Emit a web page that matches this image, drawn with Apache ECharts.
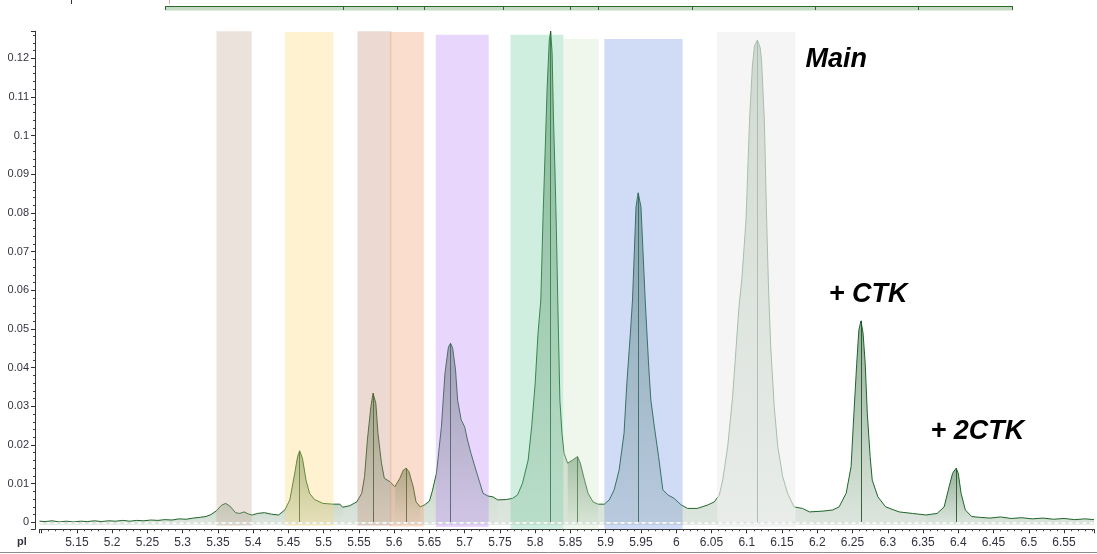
<!DOCTYPE html>
<html>
<head>
<meta charset="utf-8">
<script src="https://cdn.jsdelivr.net/npm/echarts@6/dist/echarts.min.js"></script>
<style>
  html, body { margin: 0; padding: 0; background: #ffffff; }
  #chart { width: 1097px; height: 554px; }
</style>
</head>
<body>
<div id="chart"></div>
<script>
// Electropherogram trace: pI versus absorbance
const pI = [
  5.097, 5.105, 5.115, 5.125, 5.135, 5.145, 5.155, 5.165, 5.175, 5.185,
  5.195, 5.205, 5.215, 5.225, 5.235, 5.245, 5.255, 5.265, 5.275, 5.285,
  5.295, 5.305, 5.315, 5.325, 5.333, 5.340, 5.348, 5.355, 5.361, 5.367,
  5.375, 5.381, 5.387, 5.394, 5.399, 5.406, 5.416, 5.426, 5.436, 5.445,
  5.452, 5.459, 5.463, 5.466, 5.470, 5.475, 5.480, 5.487, 5.499, 5.513,
  5.523, 5.527, 5.537, 5.547, 5.554, 5.558, 5.562, 5.567, 5.570, 5.574,
  5.577, 5.582, 5.586, 5.594, 5.601, 5.608, 5.613, 5.617, 5.621, 5.627,
  5.631, 5.637, 5.643, 5.650, 5.654, 5.660, 5.667, 5.672, 5.677, 5.680,
  5.683, 5.687, 5.690, 5.695, 5.700, 5.704, 5.709, 5.716, 5.721, 5.726,
  5.733, 5.740, 5.747, 5.759, 5.768, 5.775, 5.782, 5.790, 5.795, 5.800,
  5.804, 5.808, 5.811, 5.814, 5.817, 5.820, 5.822, 5.824, 5.826, 5.828,
  5.830, 5.832, 5.835, 5.838, 5.841, 5.846, 5.853, 5.860, 5.864, 5.870,
  5.875, 5.882, 5.889, 5.898, 5.905, 5.912, 5.919, 5.926, 5.930, 5.935,
  5.938, 5.943, 5.946, 5.950, 5.956, 5.961, 5.964, 5.969, 5.975, 5.981,
  5.988, 5.997, 6.007, 6.016, 6.030, 6.045, 6.054, 6.061, 6.066, 6.073,
  6.080, 6.085, 6.089, 6.093, 6.099, 6.104, 6.108, 6.111, 6.115, 6.119,
  6.121, 6.125, 6.128, 6.131, 6.134, 6.139, 6.144, 6.151, 6.158, 6.167,
  6.179, 6.189, 6.208, 6.222, 6.231, 6.241, 6.248, 6.252, 6.256, 6.259,
  6.262, 6.265, 6.268, 6.271, 6.275, 6.278, 6.286, 6.297, 6.316, 6.335,
  6.354, 6.370, 6.380, 6.387, 6.392, 6.397, 6.400, 6.404, 6.410, 6.419,
  6.430, 6.445, 6.460, 6.475, 6.490, 6.505, 6.520, 6.535, 6.550, 6.565,
  6.580, 6.5925
];
const absorbance = [
  0.0003, 0.0002, 0.0004, 0.0001, 0.0003, 0.0001, 0.0003, 0.0002, 0.0004, 0.0002,
  0.0004, 0.0003, 0.0005, 0.0003, 0.0005, 0.0004, 0.0006, 0.0005, 0.0007, 0.0006,
  0.0009, 0.0008, 0.0011, 0.0013, 0.0015, 0.0020, 0.0030, 0.0044, 0.0049, 0.0042,
  0.0025, 0.0023, 0.0027, 0.0021, 0.0019, 0.0023, 0.0025, 0.0021, 0.0019, 0.0032,
  0.0058, 0.0127, 0.0170, 0.0185, 0.0165, 0.0109, 0.0075, 0.0059, 0.0049, 0.0047,
  0.0047, 0.0039, 0.0043, 0.0053, 0.0075, 0.0118, 0.0213, 0.0299, 0.0334, 0.0308,
  0.0230, 0.0153, 0.0114, 0.0105, 0.0092, 0.0114, 0.0135, 0.0140, 0.0131, 0.0092,
  0.0053, 0.0040, 0.0045, 0.0055, 0.0080, 0.0127, 0.0247, 0.0385, 0.0454, 0.0463,
  0.0450, 0.0394, 0.0316, 0.0265, 0.0247, 0.0213, 0.0178, 0.0135, 0.0105, 0.0075,
  0.0068, 0.0066, 0.0058, 0.0059, 0.0062, 0.0071, 0.0101, 0.0161, 0.0247, 0.0360,
  0.0489, 0.0575, 0.0782, 0.0954, 0.1126, 0.1247, 0.1270, 0.1213, 0.1040, 0.0911,
  0.0760, 0.0575, 0.0316, 0.0230, 0.0178, 0.0153, 0.0161, 0.0170, 0.0153, 0.0109,
  0.0075, 0.0053, 0.0047, 0.0047, 0.0058, 0.0084, 0.0135, 0.0230, 0.0360, 0.0489,
  0.0575, 0.0816, 0.0852, 0.0816, 0.0575, 0.0402, 0.0316, 0.0247, 0.0170, 0.0084,
  0.0071, 0.0062, 0.0045, 0.0036, 0.0036, 0.0045, 0.0053, 0.0070, 0.0110, 0.0196,
  0.0325, 0.0454, 0.0558, 0.0627, 0.0782, 0.1040, 0.1180, 0.1232, 0.1247, 0.1228,
  0.1195, 0.1040, 0.0800, 0.0600, 0.0454, 0.0299, 0.0196, 0.0118, 0.0075, 0.0040,
  0.0036, 0.0027, 0.0029, 0.0032, 0.0040, 0.0075, 0.0144, 0.0282, 0.0411, 0.0497,
  0.0521, 0.0489, 0.0411, 0.0282, 0.0170, 0.0109, 0.0066, 0.0040, 0.0027, 0.0023,
  0.0019, 0.0023, 0.0040, 0.0092, 0.0127, 0.0140, 0.0127, 0.0075, 0.0032, 0.0015,
  0.0013, 0.0011, 0.0014, 0.0010, 0.0012, 0.0009, 0.0011, 0.0008, 0.0010, 0.0007,
  0.0009, 0.0007
];

// Integrated peaks: apex position and height
const peakPI    = [5.466, 5.570, 5.617, 5.680, 5.822, 5.860, 5.946, 6.115, 6.262, 6.397];
const peakValue = [0.0185, 0.0334, 0.0140, 0.0463, 0.1270, 0.0170, 0.0852, 0.1247, 0.0521, 0.0140];

// Peak windows (pI from / to, absorbance bottom / top)
const bandFrom   = [5.348, 5.445, 5.548, 5.594, 5.659, 5.765, 5.840, 5.898, 6.058];
const bandTo     = [5.398, 5.514, 5.596, 5.642, 5.734, 5.840, 5.890, 6.009, 6.169];
const bandBottom = [-0.0009, -0.0009, -0.0009, -0.0011, -0.0012, -0.0022, -0.0032, -0.0032, -0.0012];
const bandTop    = [0.1271, 0.1268, 0.1274, 0.1268, 0.1261, 0.1261, 0.1250, 0.1250, 0.1268];

// Peak annotations
const noteText  = ['Main', '+ CTK', '+ 2CTK'];
const notePI    = [6.227, 6.272, 6.427];
const noteValue = [0.1196, 0.0588, 0.0234];

// Window fills and their overlay strength
const bandFill = ['#c0a690', '#ffd86c', '#c48870', '#f49666', '#b67ef6', '#6ec99a', '#cde3c4', '#6e8fe0', '#f0f0f0'];
const bandAlpha = [0.32, 0.32, 0.32, 0.32, 0.32, 0.32, 0.32, 0.32, 0.65];

const chart = echarts.init(document.getElementById('chart'), null, { renderer: 'canvas' });

// Split the trace at the valley between neighbouring peaks, so each peak gets its own shading
const cut = [0];
for (let k = 0; k + 1 < peakPI.length; k++) {
  const lo = pI.findIndex(v => v > peakPI[k]);
  const hi = pI.findIndex(v => v >= peakPI[k + 1]);
  let m = lo;
  for (let i = lo; i < hi; i++) if (absorbance[i] < absorbance[m]) m = i;
  cut.push(m);
}
cut.push(pI.length - 1);

const points = pI.map((p, i) => [p, absorbance[i]]);
const traceSeries = [];
for (let s = 0; s + 1 < cut.length; s++) {
  traceSeries.push({
    type: 'line',
    data: points.slice(cut[s], cut[s + 1] + 1),
    showSymbol: false,
    symbol: 'none',
    smooth: false,
    silent: true,
    z: 2,
    lineStyle: { color: '#1f652a', width: 1 },
    areaStyle: {
      origin: -0.0006,
      color: new echarts.graphic.LinearGradient(0, 0, 0, 1, [
        { offset: 0, color: 'rgba(34,92,42,0.68)' },
        { offset: 1, color: 'rgba(34,92,42,0.22)' }
      ])
    }
  });
}

const fmt = v => String(Number(v.toFixed(2)));

const option = {
  animation: false,
  backgroundColor: '#ffffff',
  grid: { left: 39.5, right: 2.1, top: 31.2, bottom: 24.7 },
  xAxis: {
    type: 'value',
    min: 5.097,
    max: 6.5925,
    splitNumber: 30,
    minInterval: 0.05,
    maxInterval: 0.05,
    axisLine: { onZero: false, lineStyle: { color: '#333333', width: 1 } },
    axisTick: { show: true, length: 4, lineStyle: { color: '#333333' } },
    minorTick: { show: true, splitNumber: 5, length: 2, lineStyle: { color: '#444444' } },
    splitLine: { show: false },
    axisLabel: {
      margin: 7,
      color: '#333340',
      fontSize: 12,
      fontFamily: 'Liberation Sans, Arial, sans-serif',
      formatter: v => (v < 5.12 || v > 6.57) ? '' : fmt(v)
    }
  },
  yAxis: {
    type: 'value',
    min: -0.0018,
    max: 0.127,
    splitNumber: 13,
    minInterval: 0.01,
    maxInterval: 0.01,
    offset: 4.5,
    axisLine: { show: true, onZero: false, lineStyle: { color: '#333333', width: 1 } },
    axisTick: { show: true, length: 4, lineStyle: { color: '#333333' } },
    minorTick: { show: true, splitNumber: 5, length: 2, lineStyle: { color: '#444444' } },
    splitLine: { show: false },
    axisLabel: {
      margin: 6,
      color: '#333340',
      fontSize: 11,
      fontFamily: 'Liberation Sans Narrow, Arial Narrow, Liberation Sans, sans-serif',
      formatter: v => (v < -0.0001 || v > 0.1205) ? '' : fmt(v)
    }
  },
  series: [
    ...traceSeries,
    {
      // vertical drop lines at each integrated apex
      type: 'line',
      data: [],
      silent: true,
      z: 2,
      markLine: {
        z: 3,
        silent: true,
        symbol: ['none', 'none'],
        label: { show: false },
        lineStyle: { color: 'rgba(28,80,32,0.85)', width: 1, type: 'solid' },
        emphasis: { disabled: true },
        data: peakPI.map((p, i) => [{ coord: [p, 0] }, { coord: [p, peakValue[i]] }])
      }
    },
    {
      // translucent peak windows drawn over the trace
      type: 'line',
      data: [],
      silent: true,
      clip: false,
      z: 6,
      markArea: {
        z: 6,
        silent: true,
        emphasis: { disabled: true },
        data: bandFrom.map((f, i) => [
          { xAxis: f, yAxis: bandBottom[i], itemStyle: { color: bandFill[i], opacity: bandAlpha[i] } },
          { xAxis: bandTo[i], yAxis: bandTop[i] }
        ])
      }
    },
    {
      // zero baseline
      type: 'line',
      data: [],
      silent: true,
      z: 7,
      markLine: {
        z: 7,
        silent: true,
        symbol: ['none', 'none'],
        label: { show: false },
        emphasis: { disabled: true },
        data: [
          { yAxis: 0, lineStyle: { color: '#d6dcd6', width: 1, type: 'solid' } },
          { yAxis: 0, lineStyle: { color: '#ffffff', width: 1.5, type: [4, 3] } }
        ]
      }
    },
    {
      // peak annotations
      type: 'line',
      data: [],
      silent: true,
      z: 8,
      markPoint: {
        z: 8,
        silent: true,
        symbol: 'rect',
        symbolSize: 1,
        itemStyle: { color: 'rgba(0,0,0,0)' },
        label: {
          show: true,
          position: 'inside',
          color: '#000000',
          fontSize: 27,
          fontWeight: 'bold',
          fontStyle: 'italic',
          fontFamily: 'Liberation Sans, Arial, sans-serif',
          formatter: p => p.name
        },
        data: noteText.map((t, i) => ({ name: t, coord: [notePI[i], noteValue[i]] }))
      }
    }
  ],
  graphic: [
    // overview strip along the top
    { type: 'rect', silent: true, shape: { x: 165, y: 6, width: 848, height: 4.5 }, style: { fill: '#c6dbc6' } },
    { type: 'line', silent: true, shape: { x1: 165, y1: 6.5, x2: 1013, y2: 6.5 }, style: { stroke: '#2b6a2b', lineWidth: 1 } },
    ...[165.5, 343.5, 397.5, 424.5, 503.5, 570.5, 598.5, 692.5, 815.5, 918.5, 1012.5].map(x => ({
      type: 'line', silent: true, shape: { x1: x, y1: 6, x2: x, y2: 10 }, style: { stroke: '#2b6a2b', lineWidth: 1 }
    })),
    { type: 'line', silent: true, shape: { x1: 71.5, y1: 0, x2: 71.5, y2: 4 }, style: { stroke: '#333333', lineWidth: 1 } },
    { type: 'line', silent: true, shape: { x1: 169.5, y1: 0, x2: 169.5, y2: 4 }, style: { stroke: '#f2a6a6', lineWidth: 1 } },
    // axis name
    { type: 'text', silent: true, left: 17, top: 536, style: { text: 'pl', font: 'bold 11px Liberation Sans, Arial, sans-serif', fill: '#333340' } },
    // frame line at the bottom edge
    { type: 'line', silent: true, shape: { x1: 0, y1: 552.5, x2: 1097, y2: 552.5 }, style: { stroke: '#8c8c8c', lineWidth: 1 } }
  ]
};

chart.setOption(option);
</script>
</body>
</html>
